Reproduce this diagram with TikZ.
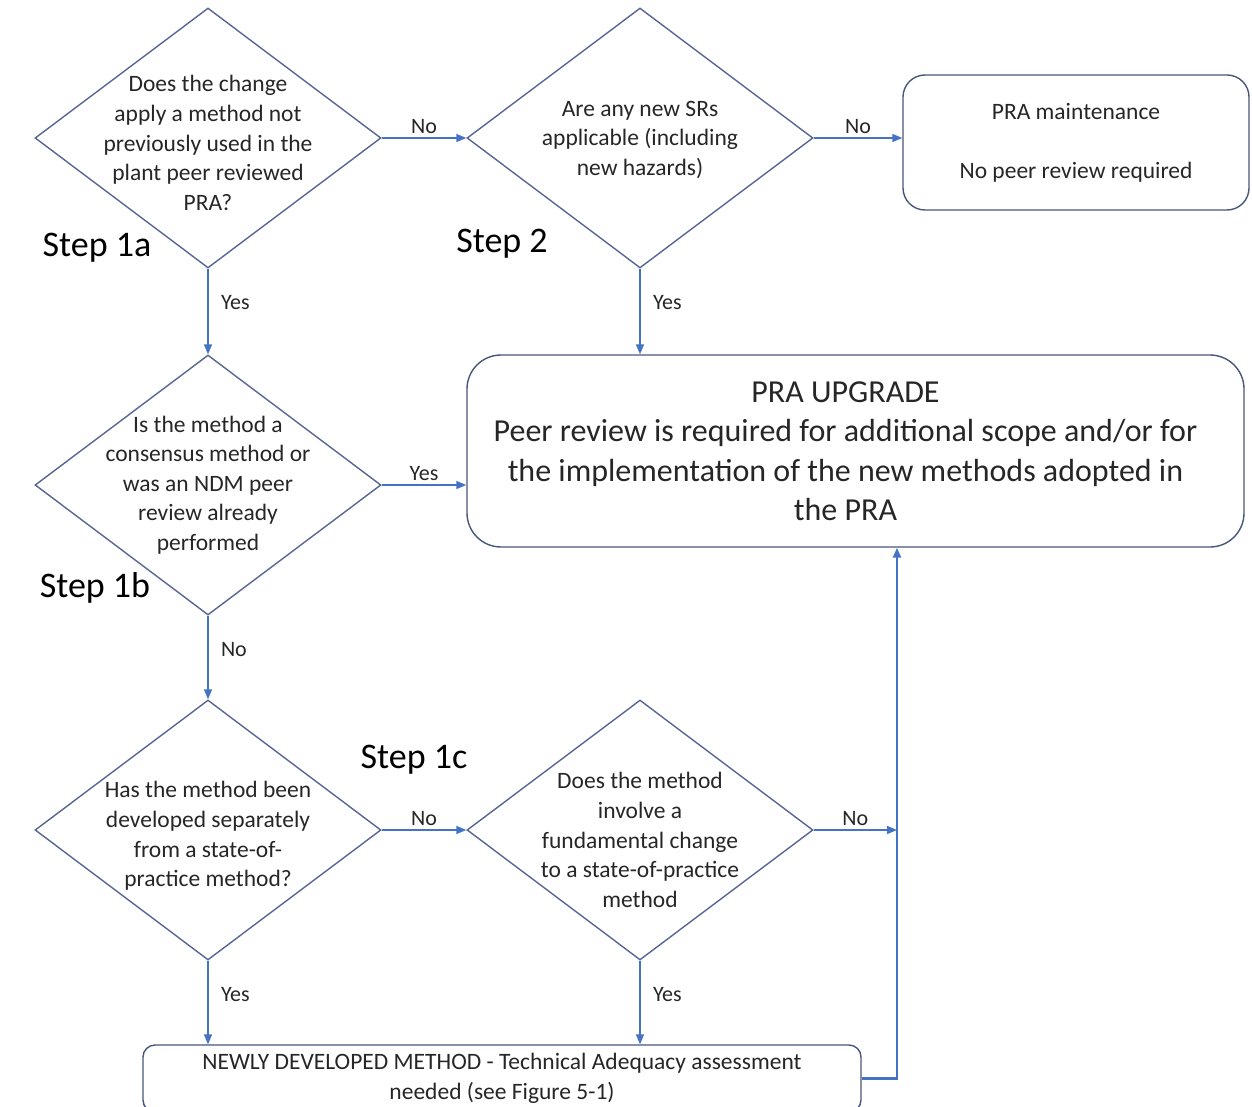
\documentclass[tikz,border=0pt]{standalone}
\usepackage{fontspec}
\setmainfont{Carlito}
\usepackage{xcolor}
\usetikzlibrary{
  shapes.geometric,
  arrows.meta,
  positioning,
  calc
}
\definecolor{flowblue}{RGB}{68,114,196}
\definecolor{shapegray}{RGB}{88,102,146}
\definecolor{boxgray}{RGB}{72,86,122}
\definecolor{inkgray}{RGB}{38,38,38}
\newcommand{\qfont}{\fontsize{23.5}{29.6}\selectfont}
\newcommand{\bigfont}{\fontsize{32}{39.5}\selectfont}
\newcommand{\stepfont}{\fontsize{36}{40}\selectfont}
\newcommand{\ansfont}{\fontsize{22}{26}\selectfont}

\begin{document}
\begin{tikzpicture}[
  x=1pt, y=-1pt,
  every node/.style={font=\qfont, text=inkgray},
  decision/.style={diamond, draw=shapegray, line width=1.4pt, minimum width=346pt,
    minimum height=260pt, inner sep=0pt},
  qtext/.style={align=center, font=\qfont, text=inkgray},
  outcome/.style={rectangle, draw=boxgray, line width=1.4pt, align=center},
  flow/.style={draw=flowblue, line width=1.4pt, -{Triangle[length=10pt,width=8pt]}},
  answer/.style={font=\ansfont, text=inkgray},
  steplabel/.style={font=\stepfont, text=black}
]
  \useasboundingbox (0,0) rectangle (1252,1107);

  \node[decision, label={[qtext, yshift=-5pt]center:{Does the change\\apply a method not\\previously used in the\\plant peer reviewed\\PRA?}}] (q1a) at (208,138) {};
  \node[decision, label={[qtext, yshift=-2pt]center:{Are any new SRs\\applicable (including\\new hazards)}}] (q2) at (640,138) {};
  \node[decision, label={[qtext]center:{Is the method a\\consensus method or\\was an NDM peer\\review already\\performed}}] (q1b) at (208,485) {};
  \node[decision, label={[qtext, yshift=-6pt]center:{Has the method been\\developed separately\\from a state-of-\\practice method?}}] (q1c) at (208,830) {};
  \node[decision, label={[qtext, yshift=-10pt]center:{Does the method\\involve a\\fundamental change\\to a state-of-practice\\method}}] (q1d) at (640,830) {};

  \node[outcome, rounded corners=22pt, minimum width=346pt, minimum height=135pt] (maint) at (1076,142.5)
      {PRA maintenance\\[29.6pt]No peer review required};
  \node[outcome, rounded corners=34pt, minimum width=777pt, minimum height=192pt, font=\bigfont] (upgrade) at (855.5,451)
      {\hspace*{-20pt}\parbox{740pt}{\centering PRA UPGRADE\\Peer review is required for additional scope and/or for\\the implementation of the new methods adopted in\\the PRA}};
  \node[outcome, rounded corners=12pt, minimum width=718pt, minimum height=67pt, inner sep=2pt] (newmeth) at (502,1078.5)
      {NEWLY DEVELOPED METHOD - Technical Adequacy assessment\\needed (see Figure 5-1)};

  \node[steplabel] (s1a) at (97,248) {Step 1a};
  \node[steplabel] (s2) at (502,244) {Step 2};
  \node[steplabel] (s1b) at (95,588) {Step 1b};
  \node[steplabel] (s1c) at (414,760) {Step 1c};

  \coordinate (merge) at (897,830);

  \draw[flow] (q1a.east) -- node[answer, above] {No} (q2.west);
  \draw[flow] (q2.east) -- node[answer, above] {No} (q2.east -| maint.west);
  \draw[flow] (q1a.south) -- node[answer, right=9pt, pos=0.4] {Yes} (q1b.north);
  \draw[flow] (q2.south) -- node[answer, right=9pt, pos=0.4] {Yes} (q2.south |- upgrade.north);
  \draw[flow] (q1b.east) -- node[answer, above] {Yes} (q1b.east -| upgrade.west);
  \draw[flow] (q1b.south) -- node[answer, right=9pt, pos=0.4] {No} (q1c.north);
  \draw[flow] (q1c.east) -- node[answer, above] {No} (q1d.west);
  \draw[flow] (q1c.south) -- node[answer, right=9pt, pos=0.4] {Yes} (q1c.south |- newmeth.north);
  \draw[flow] (q1d.south) -- node[answer, right=9pt, pos=0.4] {Yes} (q1d.south |- newmeth.north);
  \draw[flow] (q1d.east) -- node[answer, above] {No} (merge);
  \draw[flow, line width=2.4pt] (newmeth.east) -| (merge) -- (merge |- upgrade.south);
\end{tikzpicture}
\end{document}
